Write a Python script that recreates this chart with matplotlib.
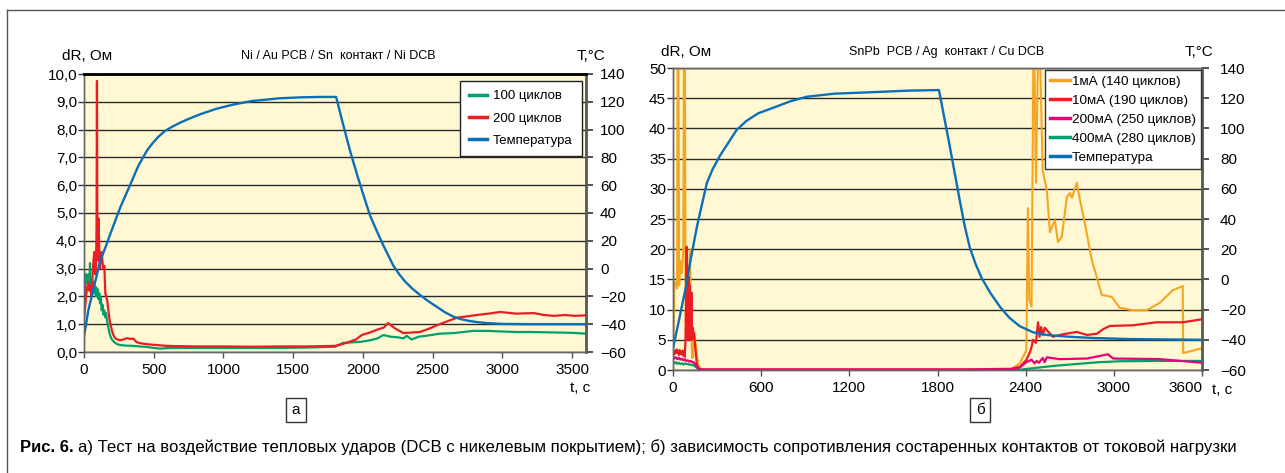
# -*- coding: utf-8 -*-
import numpy as np
import matplotlib
matplotlib.use("Agg")
import matplotlib.pyplot as plt
from matplotlib.lines import Line2D

plt.rcParams['font.family'] = ['Liberation Sans', 'DejaVu Sans']

# ---------------- data, chart (а) ----------------
t_temp_a = [0, 31, 60, 115, 160, 200, 260, 330, 390, 452, 490, 530, 580, 640, 700, 770, 832,
            950, 1070, 1200, 1400, 1550, 1700, 1808,
            1860, 1910, 1960, 2010, 2052, 2100, 2150, 2219, 2260, 2300, 2350, 2410, 2470, 2530,
            2590, 2647, 2700, 2760, 2820, 2890, 3000, 3200, 3600]
temp_a = [-49, -30, -18, 5, 17, 28, 44, 60, 74, 85, 90, 94.5, 99, 102.5, 105.5, 108.5, 111,
          115, 118, 120.5, 122.5, 123.2, 123.5, 123.5,
          103, 84, 67, 51, 38, 27, 16, 2, -4, -9, -14, -19, -23.5, -27.5,
          -31.5, -34.5, -36.3, -37.6, -38.5, -39.2, -39.8, -40, -40]

t_100 = [0, 5, 10, 15, 20, 25, 30, 35, 40, 43, 47, 52, 57, 62, 67, 72, 77, 82, 87, 91, 95, 100,
         105, 110, 115, 120, 127, 133, 139, 145, 152, 158, 163, 170, 180, 187, 200, 212, 223, 240,
         259, 280, 300, 354, 400, 450, 545, 600, 800, 1000, 1200, 1400, 1600, 1800, 1860, 1900,
         1990, 2050, 2100, 2147, 2200, 2250, 2290, 2314, 2350, 2400, 2450, 2552, 2650, 2792,
         2900, 2984, 3100, 3200, 3300, 3400, 3500, 3600]
dr_100 = [1.27, 1.9, 2.6, 2.8, 2.5, 2.75, 2.6, 2.8, 2.5, 3.2, 2.4, 2.6, 2.3, 2.55, 2.3, 2.5,
          2.1, 2.35, 2.0, 2.3, 2.05, 2.25, 1.9, 2.1, 1.75, 1.95, 1.5, 1.7, 1.35, 1.5, 1.25, 1.4,
          1.2, 1.0, 0.75, 0.6, 0.45, 0.38, 0.33, 0.28, 0.25, 0.24, 0.23, 0.22, 0.2, 0.18, 0.12,
          0.14, 0.15, 0.15, 0.15, 0.15, 0.16, 0.19, 0.33, 0.34, 0.37, 0.42, 0.48, 0.61, 0.55,
          0.53, 0.49, 0.58, 0.45, 0.55, 0.58, 0.66, 0.68, 0.76, 0.76, 0.74, 0.72, 0.72, 0.71,
          0.7, 0.69, 0.66]

t_200 = [0, 8, 15, 22, 31, 38, 45, 55, 62, 68, 74, 80, 86, 90, 93, 96, 100, 104, 108, 112, 115,
         120, 127, 133, 139, 146, 153, 160, 168, 175, 182, 190, 199, 210, 223, 240, 259, 283, 306,
         330, 354, 378, 410, 450, 593, 800, 1000, 1200, 1400, 1600, 1800, 1850, 1900, 1950,
         1992, 2050, 2100, 2150, 2181, 2230, 2290, 2350, 2410, 2480, 2550, 2673, 2800, 2900,
         2984, 3100, 3225, 3300, 3370, 3450, 3520, 3600]
dr_200 = [1.2, 1.6, 2.0, 2.3, 2.5, 2.2, 2.4, 2.0, 2.8, 3.3, 3.6, 2.8, 3.0, 4.5, 9.75, 3.5, 3.3,
          4.8, 4.0, 3.2, 3.0, 3.5, 3.6, 3.2, 3.0, 3.1, 2.1, 2.0, 1.8, 1.5, 1.2, 1.0, 0.8, 0.62,
          0.5, 0.45, 0.42, 0.45, 0.5, 0.47, 0.48, 0.35, 0.31, 0.28, 0.22, 0.2, 0.2, 0.19, 0.2,
          0.2, 0.22, 0.28, 0.36, 0.45, 0.61, 0.7, 0.8, 0.88, 1.04, 0.85, 0.68, 0.7, 0.72, 0.85,
          1.0, 1.23, 1.32, 1.38, 1.44, 1.38, 1.4, 1.33, 1.3, 1.33, 1.3, 1.32]

# ---------------- data, chart (б) ----------------
t_temp_b = [0, 30, 60, 90, 116, 163, 200, 231, 270, 320, 380, 433, 500, 580, 680, 800, 912,
            1100, 1360, 1600, 1810,
            1880, 1952, 1986, 2020, 2060, 2100, 2160, 2224, 2290, 2360, 2450, 2544, 2700, 2857,
            3100, 3600]
temp_b = [-45.6, -32, -18, -4, 11, 35, 51, 64, 73, 82, 91, 99, 105, 110, 113.6, 118, 121,
          123, 124, 125, 125.4,
          90, 52, 35, 21, 10, 1, -9, -18, -25.5, -31, -35, -36.8, -38, -38.8,
          -39.5, -40]

t_1ma = [0, 5, 10, 20, 28, 32, 36, 42, 50, 60, 70, 75, 80, 86, 95, 105, 115, 125, 130, 138, 145,
         152, 160, 170, 185, 200, 230, 1000, 2000, 2300, 2360, 2405, 2415, 2425, 2440, 2455,
         2470, 2490, 2516, 2544, 2565, 2598, 2620, 2646, 2680, 2700, 2715, 2748, 2770, 2803,
         2850, 2884, 2918, 2950, 2986, 3040, 3129, 3224, 3312, 3401, 3469, 3472, 3600]
dr_1ma = [3.5, 8, 14.5, 14.5, 13.5, 60, 60, 14, 18, 16, 20, 60, 60, 8, 9, 12, 20, 6, 2.0, 2.2,
          6.3, 5, 3, 1, 0.3, 0.05, 0.0, 0.0, 0.0, 0.05, 1.1, 3.3, 26.8, 11.6, 10.5, 60, 31, 60,
          33, 29.8, 22.8, 24.8, 21.2, 22, 28.6, 29.3, 28.5, 31, 28.1, 24.3, 18.2, 15.4, 12.4,
          12.3, 12.1, 10.3, 9.9, 9.9, 11.1, 13.2, 13.9, 2.8, 3.6]

t_10ma = [0, 5, 10, 15, 20, 25, 30, 35, 40, 45, 50, 55, 60, 65, 70, 75, 80, 85, 90, 93, 96, 100,
          105, 108, 111, 114, 118, 122, 126, 130, 134, 138, 142, 146, 150, 155, 160, 165, 170,
          175, 180, 190, 200, 230, 1000, 2000, 2300, 2360, 2405, 2430, 2440, 2450, 2470, 2484,
          2495, 2505, 2516, 2530, 2544, 2585, 2650, 2748, 2817, 2884, 2930, 2973, 3129, 3224,
          3292, 3469, 3600]
dr_10ma = [3.3, 3.0, 2.6, 3.2, 2.8, 3.4, 2.9, 3.1, 2.5, 3.3, 2.7, 3.0, 2.6, 3.2, 2.4, 3.1, 2.2,
           5, 12, 20.4, 8, 5, 10, 15.4, 6, 14, 5, 9, 12.8, 5, 7, 6.3, 6, 5.5, 4, 3, 1.5, 0.6,
           0.3, 0.2, 0.1, 0.1, 0.1, 0.1, 0.1, 0.1, 0.2, 0.5, 1.7, 3.0, 3.8, 5.0, 4.5, 7.9, 5.5,
           7.1, 5.8, 7.0, 6.6, 5.5, 5.9, 6.3, 5.8, 6.0, 6.8, 7.3, 7.4, 7.7, 7.9, 7.9, 8.4]

t_200ma = [0, 10, 20, 30, 40, 50, 60, 70, 80, 90, 100, 110, 120, 130, 140, 150, 160, 170, 180,
           190, 200, 250, 1000, 2000, 2300, 2360, 2405, 2440, 2460, 2475, 2490, 2516, 2530,
           2544, 2630, 2817, 2960, 2995, 3312, 3600]
dr_200ma = [2.2, 1.9, 2.1, 1.8, 2.0, 1.7, 1.9, 1.6, 1.8, 1.5, 1.6, 1.4, 1.5, 1.3, 1.3, 1.0, 0.7,
            0.4, 0.2, 0.1, 0.05, 0.05, 0.05, 0.05, 0.1, 0.4, 1.3, 1.7, 1.1, 1.5, 1.2, 2.0, 1.3,
            2.1, 1.8, 1.9, 2.6, 1.9, 1.8, 1.2]

t_400ma = [0, 10, 20, 30, 40, 50, 60, 70, 80, 90, 100, 110, 120, 130, 140, 150, 160, 170, 180,
           190, 200, 250, 1000, 2000, 2350, 2450, 2600, 2750, 2900, 3050, 3300, 3600]
dr_400ma = [1.3, 1.1, 1.3, 1.0, 1.2, 1.0, 1.1, 0.9, 1.1, 1.0, 1.0, 0.9, 0.9, 0.8, 0.8, 0.6, 0.4,
            0.2, 0.1, 0.05, 0.0, 0.0, 0.0, 0.0, 0.02, 0.3, 0.7, 1.0, 1.3, 1.45, 1.5, 1.5]

yticks_a = [0, 1, 2, 3, 4, 5, 6, 7, 8, 9, 10]
ylabels_a = ['0,0', '1,0', '2,0', '3,0', '4,0', '5,0', '6,0', '7,0', '8,0', '9,0', '10,0']
xticks_a = [0, 500, 1000, 1500, 2000, 2500, 3000, 3500]
yticks_b = [0, 5, 10, 15, 20, 25, 30, 35, 40, 45, 50]
xticks_b = [0, 600, 1200, 1800, 2400, 3000, 3600]
tticks = [-60, -40, -20, 0, 20, 40, 60, 80, 100, 120, 140]

GREEN = '#00a06a'
RED = '#ec1c24'
BLUE = '#0a6fb8'
ORANGE = '#f7a521'
MAGENTA = '#e5007d'
BG = '#fff8d2'

W, H = 1285, 473
fig = plt.figure(figsize=(W / 100, H / 100), dpi=100)


def px(x0, y0, x1, y1):
    return [x0 / W, 1 - y1 / H, (x1 - x0) / W, (y1 - y0) / H]


def style_axes(ax, ax2):
    ax.set_facecolor(BG)
    ax.grid(axis='y', color='#2a2a2a', lw=1)
    ax.set_axisbelow(True)
    ax.tick_params(axis='y', direction='out', length=4, width=1, pad=1, colors='#333',
                   labelsize=11, labelcolor='black')
    ax.tick_params(axis='x', direction='out', length=4, width=1, pad=4, colors='#555',
                   labelsize=11, labelcolor='black')
    ax2.tick_params(axis='y', direction='out', length=5, width=1.2, pad=5, colors='#333',
                    labelsize=11, labelcolor='black')
    for a in (ax, ax2):
        for s in a.spines.values():
            s.set_color('#666')
            s.set_linewidth(1)
    ax2.spines['right'].set_linewidth(2)
    ax2.spines['right'].set_color('#5a5a5a')


# ---------- chart а ----------
ax = fig.add_axes(px(84, 74, 586, 352))
ax2 = ax.twinx()
l1, = ax.plot(t_100, dr_100, color=GREEN, lw=1.6)
l2, = ax.plot(t_200, dr_200, color=RED, lw=1.6)
l3, = ax2.plot(t_temp_a, temp_a, color=BLUE, lw=1.7)
ax.set_xlim(0, 3600)
ax.set_ylim(0, 10)
ax2.set_ylim(-60, 140)
ax.set_xticks(xticks_a)
ax.set_yticks(yticks_a)
ax.set_yticklabels(ylabels_a)
ax2.set_yticks(tticks)
style_axes(ax, ax2)
ax2.spines['top'].set_color('black')
ax2.spines['top'].set_linewidth(2)
leg = ax2.legend([l1, l2, l3], ['100 циклов', '200 циклов', 'Температура'],
                 loc='upper right', bbox_to_anchor=(0.992, 0.975), borderaxespad=0,
                 fontsize=9.5, handlelength=1.3, handletextpad=0.5, labelspacing=0.75,
                 borderpad=0.7, fancybox=False, framealpha=1, edgecolor='#222')
leg.get_frame().set_linewidth(1)
for h in leg.get_lines():
    h.set_linewidth(2.5)

fig.text(87 / W, 1 - 56 / H, 'dR, Ом', fontsize=11, ha='center', va='center')
fig.text(338 / W, 1 - 56 / H, 'Ni / Au PCB / Sn  контакт / Ni DCB', fontsize=9, ha='center',
         va='center')
fig.text(591 / W, 1 - 56 / H, 'T,°C', fontsize=11, ha='center', va='center')
fig.text(580 / W, 1 - 388 / H, 't, с', fontsize=11, ha='center', va='center')
fig.text(296 / W, 1 - 410 / H, 'а', fontsize=11, ha='center', va='center',
         bbox=dict(boxstyle='square,pad=0.35', fc='white', ec='#333', lw=1))

# ---------- chart б ----------
bx = fig.add_axes(px(673, 68, 1202, 370))
bx2 = bx.twinx()
m1, = bx.plot(t_1ma, dr_1ma, color=ORANGE, lw=1.5)
m4, = bx.plot(t_400ma, dr_400ma, color=GREEN, lw=1.6)
m2, = bx.plot(t_10ma, dr_10ma, color=RED, lw=1.6)
m3, = bx.plot(t_200ma, dr_200ma, color=MAGENTA, lw=1.6)
m5, = bx2.plot(t_temp_b, temp_b, color=BLUE, lw=1.7)
bx.set_xlim(0, 3600)
bx.set_ylim(0, 50)
bx2.set_ylim(-60, 140)
bx.set_xticks(xticks_b)
bx.set_xticklabels([str(v) for v in xticks_b])
bx.set_yticks(yticks_b)
bx2.set_yticks(tticks)
style_axes(bx, bx2)
bx2.tick_params(axis='y', pad=8)
# last x label sits slightly left of its tick, as in the source
bx.get_xticklabels()[-1].set_horizontalalignment('right')
leg2 = bx2.legend([m1, m2, m3, m4, m5],
                  ['1мА (140 циклов)', '10мА (190 циклов)', '200мА (250 циклов)',
                   '400мА (280 циклов)', 'Температура'],
                  loc='upper right', bbox_to_anchor=(0.998, 0.993), borderaxespad=0,
                  fontsize=9.7, handlelength=1.45, handletextpad=0.15, labelspacing=0.48,
                  borderpad=0.4, fancybox=False, framealpha=1, edgecolor='#333')
leg2.get_frame().set_linewidth(1)
for h in leg2.get_lines():
    h.set_linewidth(2.5)

fig.text(686 / W, 1 - 52 / H, 'dR, Ом', fontsize=11, ha='center', va='center')
fig.text(947 / W, 1 - 52 / H, 'SnPb  PCB / Ag  контакт / Cu DCB', fontsize=9, ha='center',
         va='center')
fig.text(1199 / W, 1 - 52 / H, 'T,°C', fontsize=11, ha='center', va='center')
fig.text(1212 / W, 1 - 390 / H, 't, с', fontsize=11, ha='left', va='center')
fig.text(980 / W, 1 - 410 / H, 'б', fontsize=11, ha='center', va='center',
         bbox=dict(boxstyle='square,pad=0.35', fc='white', ec='#333', lw=1))

# ---------- caption and frame ----------
cap_font = ['Liberation Sans', 'DejaVu Sans']
fig.text(20 / W, 1 - 447 / H, 'Рис. 6.', fontsize=12, fontweight='bold', family=cap_font,
         ha='left', va='center')
fig.text(78 / W, 1 - 447 / H,
         'а) Тест на воздействие тепловых ударов (DCB с никелевым покрытием); '
         'б) зависимость сопротивления состаренных контактов от токовой нагрузки',
         fontsize=12.1, family=cap_font, ha='left', va='center')

fig.add_artist(Line2D([7 / W, 1], [1 - 10 / H, 1 - 10 / H], transform=fig.transFigure,
                      color='#555', lw=1))
fig.add_artist(Line2D([7 / W, 7 / W], [0, 1 - 10 / H], transform=fig.transFigure,
                      color='#555', lw=1))

fig.savefig('out.png', dpi=100)
